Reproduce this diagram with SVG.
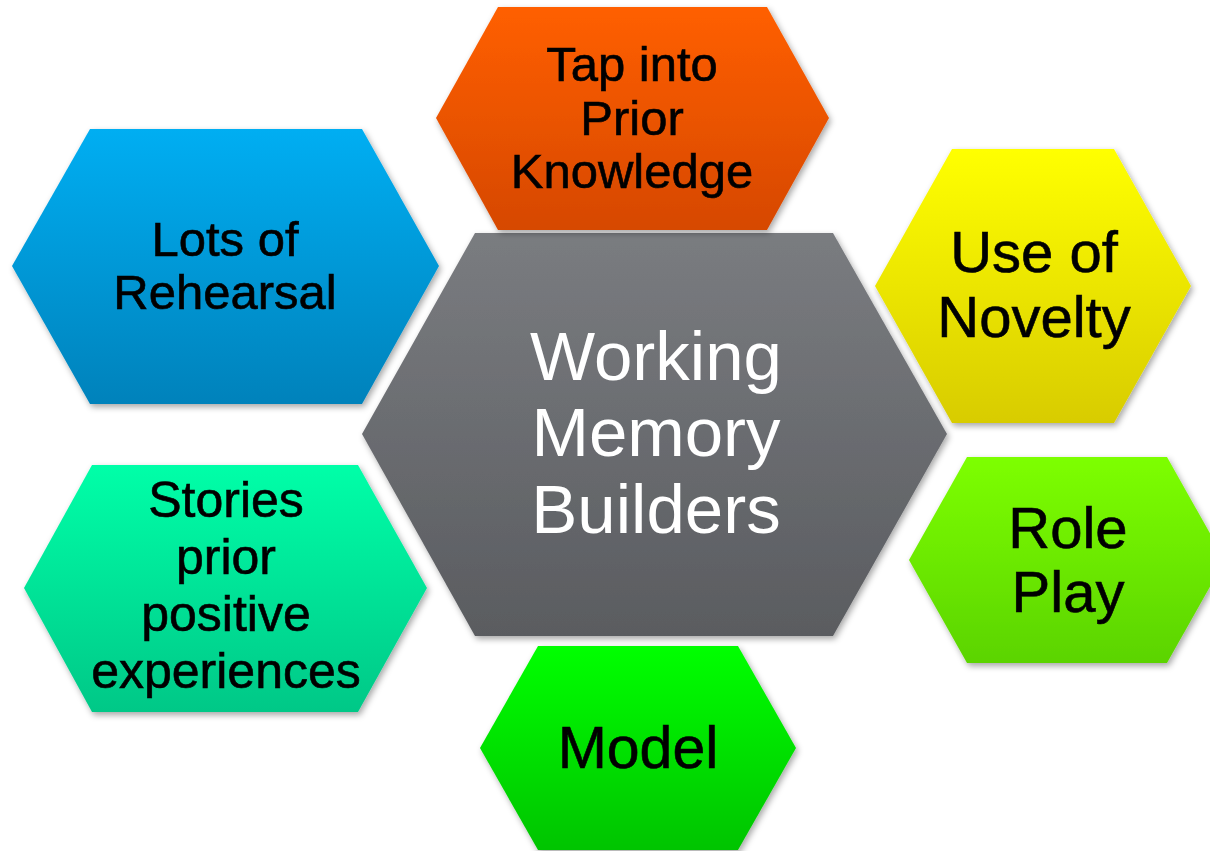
<svg xmlns="http://www.w3.org/2000/svg" width="1210" height="851" viewBox="0 0 1210 851">
<defs>
<linearGradient id="gGray" x1="0" y1="0" x2="0" y2="1"><stop offset="0" stop-color="#7a7c80"/><stop offset="1" stop-color="#5a5c60"/></linearGradient>
<linearGradient id="gOrange" x1="0" y1="0" x2="0" y2="1"><stop offset="0" stop-color="#ff5f00"/><stop offset="1" stop-color="#d64800"/></linearGradient>
<linearGradient id="gBlue" x1="0" y1="0" x2="0" y2="1"><stop offset="0" stop-color="#00aef2"/><stop offset="1" stop-color="#0082bb"/></linearGradient>
<linearGradient id="gYellow" x1="0" y1="0" x2="0" y2="1"><stop offset="0" stop-color="#ffff00"/><stop offset="1" stop-color="#d8cc00"/></linearGradient>
<linearGradient id="gLime" x1="0" y1="0" x2="0" y2="1"><stop offset="0" stop-color="#7dff00"/><stop offset="1" stop-color="#5bd400"/></linearGradient>
<linearGradient id="gGreen" x1="0" y1="0" x2="0" y2="1"><stop offset="0" stop-color="#00ff00"/><stop offset="1" stop-color="#00c400"/></linearGradient>
<linearGradient id="gTeal" x1="0" y1="0" x2="0" y2="1"><stop offset="0" stop-color="#00ffa8"/><stop offset="1" stop-color="#00c887"/></linearGradient>
<filter id="shadow" x="-10%" y="-10%" width="120%" height="125%">
<feDropShadow dx="2" dy="3" stdDeviation="3" flood-color="#000" flood-opacity="0.35"/>
</filter>
</defs>
<style>
.hex{filter:url(#shadow);}
.lbl{font-family:"Liberation Sans",Arial,sans-serif;fill:#000;stroke:#000;stroke-width:0.6px;text-anchor:middle;}
.center{font-family:"Liberation Sans",Arial,sans-serif;fill:#fff;text-anchor:middle;font-size:69px;}
</style>
<g id="connectors"/>
<g id="node-center">
<polygon class="hex" fill="url(#gGray)" points="475,233 833,233 947,434 833,636 475,636 362,434"/>
<text class="center" x="656" y="380">Working</text>
<text class="center" x="656" y="456">Memory</text>
<text class="center" x="656" y="533">Builders</text>
</g>
<g id="node-prior">
<polygon class="hex" fill="url(#gOrange)" points="498,7 767,7 829,118 767,230 498,230 436,118"/>
<text class="lbl" font-size="49" x="632" y="81">Tap into</text>
<text class="lbl" font-size="49" x="632" y="135">Prior</text>
<text class="lbl" font-size="49" x="632" y="188">Knowledge</text>
</g>
<g id="node-rehearsal">
<polygon class="hex" fill="url(#gBlue)" points="90,129 362,129 439,266 362,404 90,404 12,266"/>
<text class="lbl" font-size="49" x="225" y="256">Lots of</text>
<text class="lbl" font-size="49" x="225" y="309">Rehearsal</text>
</g>
<g id="node-novelty">
<polygon class="hex" fill="url(#gYellow)" points="952,149 1114,149 1191,286 1114,423 952,423 875,286"/>
<text class="lbl" font-size="58" x="1034" y="272">Use of</text>
<text class="lbl" font-size="58" x="1034" y="337">Novelty</text>
</g>
<g id="node-roleplay">
<polygon class="hex" fill="url(#gLime)" points="967,457 1167,457 1225,560 1167,663 967,663 909,560"/>
<text class="lbl" font-size="58" x="1068" y="548">Role</text>
<text class="lbl" font-size="58" x="1068" y="612">Play</text>
</g>
<g id="node-model">
<polygon class="hex" fill="url(#gGreen)" points="538,646 738,646 796,748 738,850 538,850 480,748"/>
<text class="lbl" font-size="59" x="638" y="768">Model</text>
</g>
<g id="node-stories">
<polygon class="hex" fill="url(#gTeal)" points="92,465 358,465 427,588 358,712 92,712 24,588"/>
<text class="lbl" font-size="50" x="226" y="517">Stories</text>
<text class="lbl" font-size="50" x="226" y="574">prior</text>
<text class="lbl" font-size="50" x="226" y="631">positive</text>
<text class="lbl" font-size="50" x="226" y="688">experiences</text>
</g>
</svg>
